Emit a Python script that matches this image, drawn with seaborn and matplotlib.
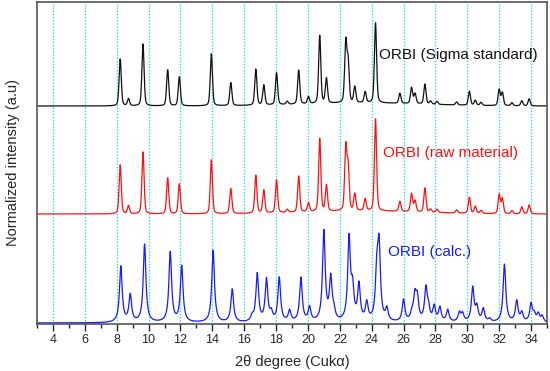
import numpy as np
import pandas as pd
import matplotlib
matplotlib.use("Agg")
import matplotlib.pyplot as plt
import seaborn as sns
from matplotlib.ticker import MultipleLocator

# ---- data (peak positions in 2theta, peak intensities in arbitrary units) ----
sigma_pos = [8.22, 8.74, 9.65, 11.20, 11.93, 13.94, 15.16, 16.73, 17.23, 18.03, 18.70, 19.42, 20.03,
             20.74, 21.16, 22.37, 22.52, 22.94, 23.59, 24.24, 25.77, 26.50, 26.72, 27.34, 27.70, 28.10,
             29.33, 30.13, 30.50, 30.86, 32.00, 32.20, 32.80, 33.42, 33.88]
sigma_int = [47, 7, 62, 36, 29, 52, 23, 36, 20, 32, 3, 34, 7,
             68, 25, 60, 40, 16, 11, 80, 10, 16, 10, 20, 3, 3,
             3, 14, 5, 3, 16, 13, 3, 5, 7]

raw_pos = sigma_pos
raw_int = [49, 8, 62, 36, 30, 54, 25, 38, 23, 33, 3, 36, 9,
           73, 26, 63, 43, 17, 12, 92, 10, 18, 11, 24, 3, 3,
           3, 16, 7, 3, 19, 15, 3, 7, 9]

calc_pos = [8.26, 8.85, 9.75, 11.36, 12.08, 14.05, 15.25, 16.50, 16.82, 17.40, 17.70, 18.20, 18.85,
            19.56, 20.10, 21.00, 21.43, 21.62, 22.58, 22.80, 23.20, 23.69, 24.32, 24.46, 24.95, 26.00,
            26.52, 26.71, 26.86, 27.40, 27.56, 27.92, 28.28, 28.77, 29.50, 29.70, 30.34, 30.60, 31.00,
            31.40, 32.33, 33.10, 33.42, 34.00, 34.20, 34.45, 34.70]
calc_int = [56, 27, 78, 70, 56, 72, 33, 5, 48, 42, 8, 44, 11,
            44, 14, 90, 42, 8, 82, 30, 36, 18, 45, 72, 12, 22,
            7, 24, 22, 32, 12, 15, 14, 12, 9, 8, 34, 14, 13,
            3, 58, 21, 9, 18, 7, 8, 6]

series_names = ["ORBI (Sigma standard)", "ORBI (raw material)", "ORBI (calc.)"]
series_offsets = [218, 110, 1]
series_colors = ["#111111", "#ff1010", "#1a1aff"]
label_x = [24.45, 24.7, 25.0]
label_y = [269, 171, 72]

x_ticks = list(range(4, 35, 2))

# ---- build profiles ----
x = np.linspace(3, 35, 4001)

def exp_profile(pos, inten, w=0.16, eta=0.35, hump=3.0):
    y = np.zeros_like(x)
    for p, h in zip(pos, inten):
        d = (x - p) / (w / 2)
        y += h * (eta / (1 + d ** 2) + (1 - eta) * np.exp(-np.log(2) * d ** 2))
    y += hump * np.exp(-((x - 23.5) / 5.5) ** 2)
    return y

def calc_profile(pos, inten, w=0.2):
    y = np.zeros_like(x)
    for p, h in zip(pos, inten):
        y += h / (1 + ((x - p) / (w / 2)) ** 2)
    return y

profiles = [exp_profile(sigma_pos, sigma_int),
            exp_profile(raw_pos, raw_int),
            calc_profile(calc_pos, calc_int)]

frames = []
for name, off, prof in zip(series_names, series_offsets, profiles):
    frames.append(pd.DataFrame({"x": x, "y": prof + off, "series": name}))
df = pd.concat(frames, ignore_index=True)

# ---- plot ----
sns.set_style("white")
plt.rcParams["font.family"] = ["Liberation Sans", "DejaVu Sans"]

fig = plt.figure(figsize=(5.5, 3.71), dpi=100)
ax = fig.add_axes([37 / 550, 1 - 324 / 371, (547 - 37) / 550, (324 - 2) / 371])

for xv in x_ticks:
    ax.axvline(xv, color="#00e0ee", linestyle=(0, (1, 1.5)), linewidth=0.9, zorder=0)

sns.lineplot(data=df, x="x", y="y", hue="series", palette=dict(zip(series_names, series_colors)),
             legend=False, linewidth=0.9, ax=ax, estimator=None, sort=False)

for name, col, lx, ly in zip(series_names, series_colors, label_x, label_y):
    ax.text(lx, ly, name, color=col, fontsize=11, va="center", ha="left")

ax.set_xlim(3, 35)
ax.set_ylim(0, 322)
ax.set_xticks(x_ticks)
ax.xaxis.set_minor_locator(MultipleLocator(1))
ax.set_yticks([])
ax.tick_params(axis="x", which="major", direction="out", length=5, width=1, labelsize=9, pad=2, bottom=True)
ax.tick_params(axis="x", which="minor", direction="out", length=3, width=1, bottom=True)
ax.set_xlabel("2θ degree (Cukα)", fontsize=10.5, labelpad=7)
ax.set_ylabel("Normalized intensity (a.u)", fontsize=10.5, labelpad=12)
for sp in ax.spines.values():
    sp.set_color("#555555")
    sp.set_linewidth(1.2)

fig.savefig("out.png", dpi=100)
